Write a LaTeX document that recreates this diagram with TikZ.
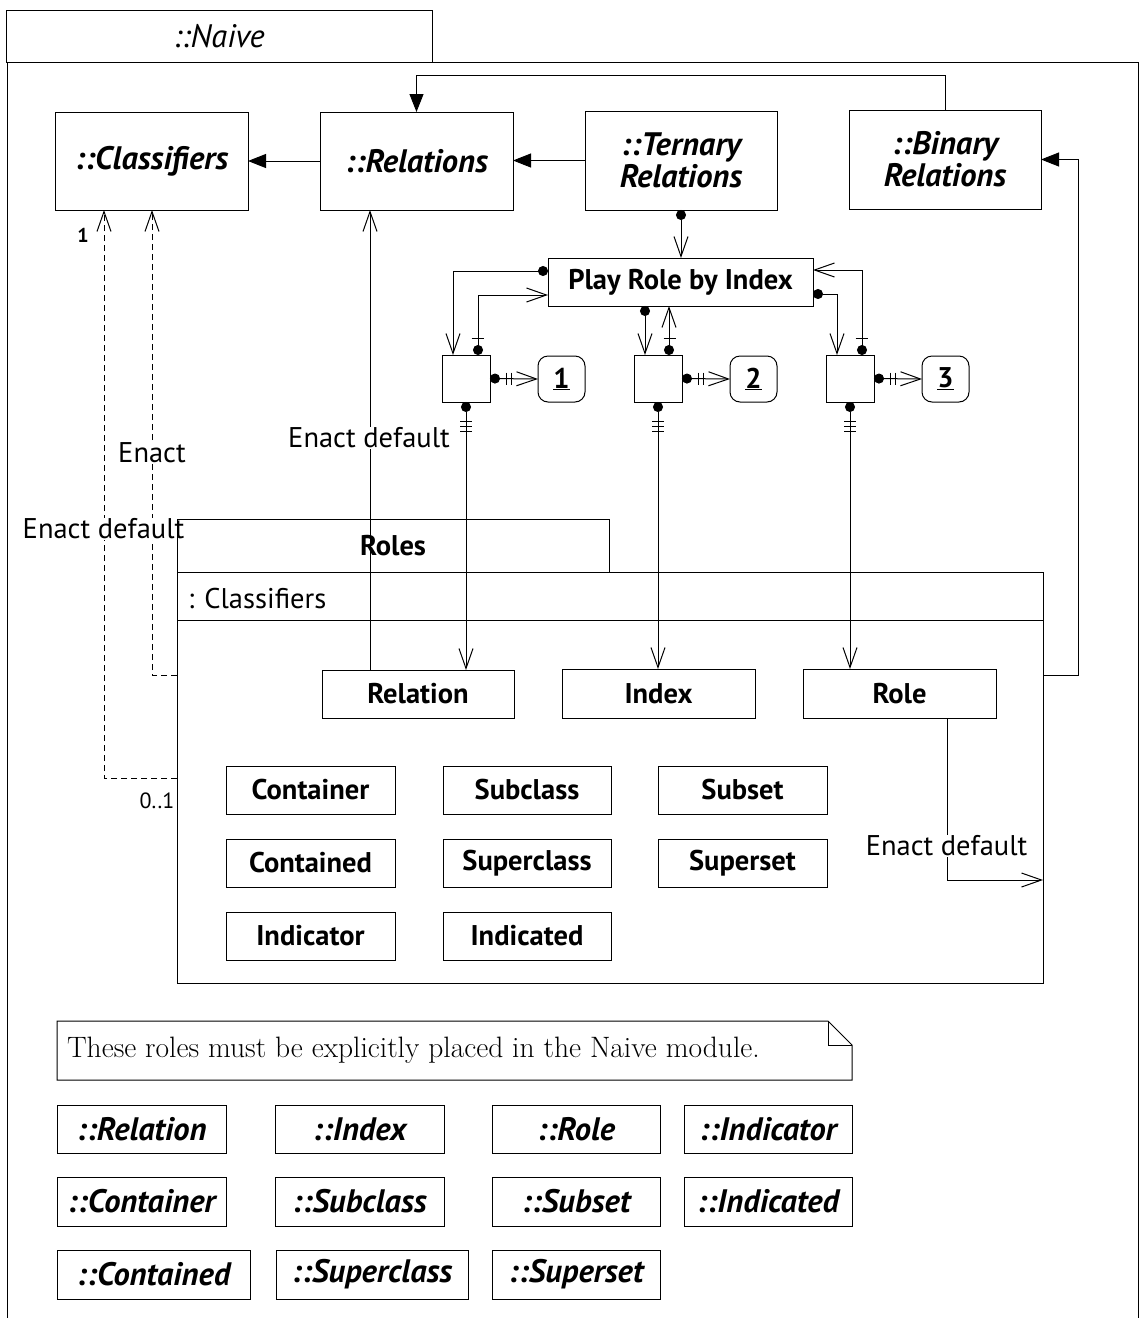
\documentclass[tikz,border=0pt]{standalone}
\usepackage{fontspec}
\newfontfamily\ui{PT Sans}
\usetikzlibrary{arrows.meta,calc}
\newcommand\uisz{\fontsize{28.5}{33}\selectfont}
\newcommand\itsz{\fontsize{32.5}{32}\selectfont}
\begin{document}
\begin{tikzpicture}[x=1pt,y=-1pt,line width=1pt,
  every node/.style={inner sep=0pt,outer sep=0pt},
  box/.style={draw,rectangle,font=\ui\uisz},
  bbox/.style={draw,rectangle,font=\ui\bfseries\uisz},
  ibox/.style={draw,rectangle,align=center,font=\ui\bfseries\itshape\itsz},
  lbl/.style={fill=white,inner sep=1pt,font=\ui\uisz},
  tri/.style={-{Triangle[length=18pt,width=14pt]}},
  barb/.style={-{Straight Barb[length=20pt,width=14pt]}},
  dotbarb/.style={{Circle[length=10pt]}-{Straight Barb[length=20pt,width=14pt]}},
  dashline/.style={dash pattern=on 6pt off 4pt},
  tickline/.style={line width=0.9pt}
]
\path[use as bounding box,fill=white] (0,0) rectangle (1140,1318);

% ---------- outer frame ----------
\node[draw,minimum width=426pt,minimum height=52pt,anchor=north west,
      font=\ui\itshape\itsz] (naivetab) at (6,10) {::Naive};
\draw (7,1318) -- (7,62) -- (1138,62) -- (1138,1318);

% ---------- top row ----------
\node[ibox,minimum width=193pt,minimum height=98pt] (cls) at (151.5,161) {::Classifiers};
\node[ibox,minimum width=193pt,minimum height=98pt] (rels) at (416.5,161) {::Relations};
\node[ibox,minimum width=192pt,minimum height=99pt] (tern) at (681,160.5) {::Ternary\\Relations};
\node[ibox,minimum width=192pt,minimum height=99pt] (bin) at (945,159.5) {::Binary\\Relations};

% ---------- play role ----------
\node[bbox,minimum width=265pt,minimum height=48pt] (prbi) at (680.5,282) {Play Role by Index};
\foreach \n/\x in {1/466,2/658,3/850}{
  \node[draw,minimum width=48pt,minimum height=47pt] (sq\n) at (\x,378.5) {};
  \node[draw,rounded corners=10pt,minimum width=47pt,minimum height=46pt,
        font=\ui\bfseries\uisz] (rb\n) at (\x+95.5,379) {\underline{\n}};
}

% ---------- Roles frame (inner boxes) ----------
\node[bbox,minimum width=192pt,minimum height=48pt] (relation) at (418,694) {Relation};
\node[bbox,minimum width=193pt,minimum height=49pt] (index) at (658.5,693.5) {Index};
\node[bbox,minimum width=193pt,minimum height=49pt] (role) at (899.5,693.5) {Role};

\node[bbox,minimum width=169pt,minimum height=48pt] (container) at (310.5,790) {Container};
\node[bbox,minimum width=168pt,minimum height=48pt] (subclass) at (527,790) {Subclass};
\node[bbox,minimum width=169pt,minimum height=48pt] (subset) at (742.5,790) {Subset};
\node[bbox,minimum width=169pt,minimum height=48pt] (contained) at (310.5,863) {Contained};
\node[bbox,minimum width=168pt,minimum height=48pt] (superclass) at (527,863) {Superclass};
\node[bbox,minimum width=169pt,minimum height=48pt] (superset) at (742.5,863) {Superset};
\node[bbox,minimum width=169pt,minimum height=48pt] (indicator) at (310.5,936) {Indicator};
\node[bbox,minimum width=168pt,minimum height=48pt] (indicated) at (527,936) {Indicated};

% ---------- connectors top ----------
\draw[tri] (rels.west) -- (cls.east);
\draw[tri] (tern.west) -- (tern.west -| rels.east);
\draw[tri] (bin.north) -- ++(0,-35) -| (rels.north);

\draw[dotbarb] (tern.south) -- (tern.south |- prbi.north);

\draw[dotbarb] ($(prbi.west)+(0,-11)$) -| ($(sq1.north west)+(11,0)$);
\draw[dotbarb] ($(sq1.north east)+(-12,0)$) |- ($(prbi.west)+(0,13)$);
\draw[dotbarb] ($(prbi.south)+(-35.5,0)$) -- ($(sq2.north west)+(11,0)$);
\draw[dotbarb] ($(sq2.north east)+(-13,0)$) -- ($(prbi.south)+(-11.5,0)$);
\draw[dotbarb] ($(prbi.east)+(0,12)$) -| ($(sq3.north west)+(11,0)$);
\draw[dotbarb] ($(sq3.north east)+(-12,0)$) |- ($(prbi.east)+(0,-12)$);

\draw[dotbarb] (sq1.east) -- (rb1.west);
\draw[dotbarb] (sq2.east) -- (rb2.west);
\draw[dotbarb] (sq3.east) -- (rb3.west);

\draw[dotbarb] (sq1.south) -- (sq1.south |- relation.north);
\draw[dotbarb] (sq2.south) -- (sq2.south |- index.north);
\draw[dotbarb] (sq3.south) -- (sq3.south |- role.north);

% ticks
\foreach \s in {sq1,sq2,sq3}{
  \draw[tickline] ($(\s.north east)+(-18.5,-17)$) -- ++(12,0);
  \draw[tickline] ($(\s.east)+(16,-6)$) -- ++(0,12);
  \draw[tickline] ($(\s.east)+(21,-6)$) -- ++(0,12);
  \draw[tickline] ($(\s.south)+(-6,19)$) -- ++(12,0);
  \draw[tickline] ($(\s.south)+(-6,24)$) -- ++(12,0);
  \draw[tickline] ($(\s.south)+(-6,29)$) -- ++(12,0);
}

% Enact default (Relation -> ::Relations)
\coordinate (relA) at ($(relation.north west)+(48,0)$);
\draw[barb] (relA) -- (relA |- rels.south);
\node[lbl] (edc) at (369,438) {Enact default};

% dashed connectors to ::Classifiers
\coordinate (rf2) at (177,675);
\coordinate (rf4) at (177,778);
\coordinate (clsA) at ($(cls.south west)+(97,0)$);
\coordinate (clsB) at ($(cls.south west)+(49,0)$);
\draw[dashline,barb] (rf2) -| (clsA);
\draw[dashline,barb] (rf4) -| (clsB);
\node[lbl] (enact) at (152,453) {Enact};
\node[lbl] (edl) at (103.5,529) {Enact default};
\node[font=\ui\bfseries\fontsize{20}{22}\selectfont] (m1) at (83,235) {1};
\node[font=\ui\fontsize{22}{24}\selectfont] (m01) at (157,801) {0..1};

% Role -> frame
\coordinate (roleA) at ($(role.south east)+(-49,0)$);
\coordinate (rf3) at (1043,880);
\draw[barb] (roleA) |- (rf3);
\node[lbl] (edr) at (946.5,846) {Enact default};

% ---------- Roles frame ----------
\node[draw,minimum width=432pt,minimum height=53pt,anchor=north west,
      font=\ui\bfseries\uisz] (rolestab) at (177,519) {Roles};
\node[draw,minimum width=866pt,minimum height=411pt,anchor=north west] (rolesmain) at (177,572) {};
\draw ($(rolesmain.north west)+(0,48)$) -- ($(rolesmain.north east)+(0,48)$);
\node[anchor=west,font=\ui\uisz] (clsname) at (188,599) {: Classifiers};

\coordinate (rf1) at ($(rolesmain.north east)+(0,103)$);
\draw[tri] (rf1) -- ++(35,0) |- (bin.east);

% ---------- note ----------
\node[minimum width=795pt,minimum height=59pt,anchor=north west] (note) at (57,1021) {};
\draw (note.north west) -- ($(note.north east)+(-24,0)$) -- ($(note.north east)+(0,24)$)
      -- (note.south east) -- (note.south west) -- cycle;
\draw ($(note.north east)+(-24,0)$) |- ($(note.north east)+(0,24)$);
\node[anchor=west,font=\fontsize{29.5}{32}\selectfont] (notetext) at (67,1050)
  {These roles must be explicitly placed in the Naive module.};

% ---------- bottom boxes ----------
\node[ibox,minimum width=169pt,minimum height=48pt] (bRelation) at (141.5,1129) {::Relation};
\node[ibox,minimum width=169pt,minimum height=48pt] (bIndex) at (359.5,1129) {::Index};
\node[ibox,minimum width=168pt,minimum height=48pt] (bRole) at (576,1129) {::Role};
\node[ibox,minimum width=168pt,minimum height=48pt] (bIndicator) at (768,1129) {::Indicator};
\node[ibox,minimum width=169pt,minimum height=49pt] (bContainer) at (141.5,1201.5) {::Container};
\node[ibox,minimum width=169pt,minimum height=49pt] (bSubclass) at (359.5,1201.5) {::Subclass};
\node[ibox,minimum width=168pt,minimum height=49pt] (bSubset) at (576,1201.5) {::Subset};
\node[ibox,minimum width=168pt,minimum height=49pt] (bIndicated) at (768,1201.5) {::Indicated};
\node[ibox,minimum width=193pt,minimum height=49pt] (bContained) at (153.5,1274.5) {::Contained};
\node[ibox,minimum width=192pt,minimum height=49pt] (bSuperclass) at (372,1274.5) {::Superclass};
\node[ibox,minimum width=168pt,minimum height=49pt] (bSuperset) at (576,1274.5) {::Superset};
\end{tikzpicture}
\end{document}
